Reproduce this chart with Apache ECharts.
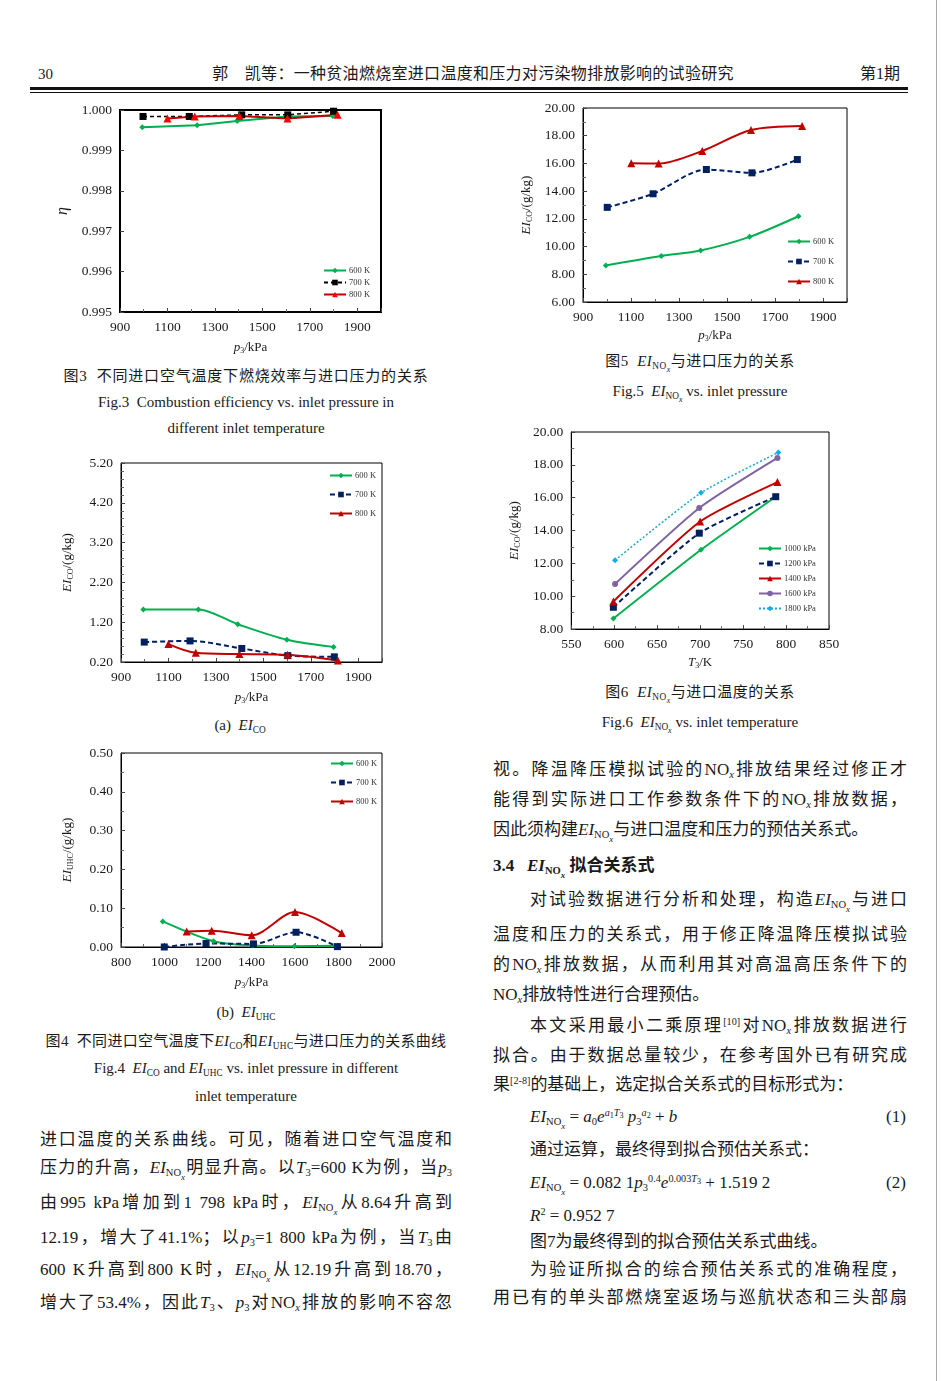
<!DOCTYPE html>
<html><head><meta charset="utf-8">
<script src="https://cdn.jsdelivr.net/npm/echarts@6/dist/echarts.min.js"></script>
<style>
html,body{margin:0;padding:0;background:#fff;}
body{width:941px;height:1381px;position:relative;overflow:hidden;font-family:"Liberation Serif","Noto Sans CJK SC",serif;color:#1a1a1a;}
.t{position:absolute;white-space:nowrap;line-height:22px;height:22px;}
.c{text-align:center;}
.ln{position:absolute;height:22px;line-height:22px;font-size:17px;text-align:justify;text-align-last:justify;overflow:visible;}
.nl{text-align-last:auto;}
sub{font-size:0.62em;vertical-align:-0.32em;line-height:0;}
sub sub{font-size:0.85em;vertical-align:-0.4em;}
sup{font-size:0.6em;vertical-align:0.55em;line-height:0;}
sup sub{font-size:0.8em;vertical-align:-0.2em;}
.chart{position:absolute;}
.rule{position:absolute;left:30px;width:878px;background:#111;}
</style>
</head><body>
<div id="c1" class="chart" style="left:40px;top:95px;width:360px;height:265px"></div>
<div id="c2" class="chart" style="left:500px;top:95px;width:380px;height:255px"></div>
<div id="c3" class="chart" style="left:40px;top:450px;width:360px;height:260px"></div>
<div id="c4" class="chart" style="left:40px;top:740px;width:360px;height:255px"></div>
<div id="c5" class="chart" style="left:500px;top:420px;width:380px;height:255px"></div>

<!-- header -->
<div class="t" style="left:38px;top:63px;font-size:15px">30</div>
<div class="t c" style="left:200px;width:546px;top:63px;font-size:16px;letter-spacing:0.3px">郭　凯等：一种贫油燃烧室进口温度和压力对污染物排放影响的试验研究</div>
<div class="t" style="left:860px;top:63px;font-size:16px">第1期</div>
<div class="rule" style="top:87px;height:3px"></div>
<div class="rule" style="top:92px;height:1px"></div>
<div style="position:absolute;left:936px;top:0;width:1px;height:1381px;background:#aaa"></div>

<!-- fig3 captions -->
<div class="t c" style="left:30px;width:432px;top:365px;font-size:15px;letter-spacing:0.8px">图3&nbsp; 不同进口空气温度下燃烧效率与进口压力的关系</div>
<div class="t c" style="left:30px;width:432px;top:391px;font-size:15px">Fig.3&nbsp; Combustion efficiency vs. inlet pressure in</div>
<div class="t c" style="left:30px;width:432px;top:417px;font-size:15px">different inlet temperature</div>

<!-- fig4 captions -->
<div class="t c" style="left:30px;width:420px;top:714px;font-size:15px">(a)&nbsp; <i>EI</i><sub>CO</sub></div>
<div class="t c" style="left:30px;width:432px;top:1001px;font-size:15px">(b)&nbsp; <i>EI</i><sub>UHC</sub></div>
<div class="t c" style="left:30px;width:432px;top:1030px;font-size:15px;letter-spacing:0.3px">图4&nbsp; 不同进口空气温度下<i>EI</i><sub>CO</sub>和<i>EI</i><sub>UHC</sub>与进口压力的关系曲线</div>
<div class="t c" style="left:30px;width:432px;top:1057px;font-size:15px">Fig.4&nbsp; <i>EI</i><sub>CO</sub> and <i>EI</i><sub>UHC</sub> vs. inlet pressure in different</div>
<div class="t c" style="left:30px;width:432px;top:1085px;font-size:15px">inlet temperature</div>

<!-- fig5 / fig6 captions -->
<div class="t c" style="left:500px;width:400px;top:350px;font-size:15px;letter-spacing:0.5px">图5&nbsp; <i>EI</i><sub>NO<sub><i>x</i></sub></sub>与进口压力的关系</div>
<div class="t c" style="left:500px;width:400px;top:380px;font-size:15px">Fig.5&nbsp; <i>EI</i><sub>NO<sub><i>x</i></sub></sub> vs. inlet pressure</div>
<div class="t c" style="left:500px;width:400px;top:681px;font-size:15px;letter-spacing:0.5px">图6&nbsp; <i>EI</i><sub>NO<sub><i>x</i></sub></sub>与进口温度的关系</div>
<div class="t c" style="left:500px;width:400px;top:711px;font-size:15px">Fig.6&nbsp; <i>EI</i><sub>NO<sub><i>x</i></sub></sub> vs. inlet temperature</div>

<!-- left body text -->
<div class="ln" style="left:40px;width:412px;top:1129px">进口温度的关系曲线。可见，随着进口空气温度和</div>
<div class="ln" style="left:40px;width:412px;top:1157px">压力的升高，<i>EI</i><sub>NO<sub><i>x</i></sub></sub>明显升高。以<i>T</i><sub>3</sub>=600 K为例，当<i>p</i><sub>3</sub></div>
<div class="ln" style="left:40px;width:412px;top:1192px">由995 kPa增加到1 798 kPa时，<i>EI</i><sub>NO<sub><i>x</i></sub></sub>从8.64升高到</div>
<div class="ln" style="left:40px;width:412px;top:1227px">12.19，增大了41.1%；以<i>p</i><sub>3</sub>=1 800 kPa为例，当<i>T</i><sub>3</sub>由</div>
<div class="ln" style="left:40px;width:412px;top:1259px">600 K升高到800 K时，<i>EI</i><sub>NO<sub><i>x</i></sub></sub>从12.19升高到18.70，</div>
<div class="ln" style="left:40px;width:412px;top:1292px">增大了53.4%，因此<i>T</i><sub>3</sub>、<i>p</i><sub>3</sub>对NO<sub><i>x</i></sub>排放的影响不容忽</div>

<!-- right body text -->
<div class="ln" style="left:493px;width:414px;top:759px">视。降温降压模拟试验的NO<sub><i>x</i></sub>排放结果经过修正才</div>
<div class="ln" style="left:493px;width:414px;top:789px">能得到实际进口工作参数条件下的NO<sub><i>x</i></sub>排放数据，</div>
<div class="ln nl" style="left:493px;width:414px;top:819px">因此须构建<i>EI</i><sub>NO<sub><i>x</i></sub></sub>与进口温度和压力的预估关系式。</div>
<div class="ln nl" style="left:493px;width:414px;top:855px;font-weight:bold">3.4&nbsp;&nbsp; <i>EI</i><sub>NO<sub><i>x</i></sub></sub> 拟合关系式</div>
<div class="ln" style="left:530px;width:377px;top:889px">对试验数据进行分析和处理，构造<i>EI</i><sub>NO<sub><i>x</i></sub></sub>与进口</div>
<div class="ln" style="left:493px;width:414px;top:924px">温度和压力的关系式，用于修正降温降压模拟试验</div>
<div class="ln" style="left:493px;width:414px;top:954px">的NO<sub><i>x</i></sub>排放数据，从而利用其对高温高压条件下的</div>
<div class="ln nl" style="left:493px;width:414px;top:984px">NO<sub><i>x</i></sub>排放特性进行合理预估。</div>
<div class="ln" style="left:530px;width:377px;top:1015px">本文采用最小二乘原理<sup>[10]</sup>对NO<sub><i>x</i></sub>排放数据进行</div>
<div class="ln" style="left:493px;width:414px;top:1045px">拟合。由于数据总量较少，在参考国外已有研究成</div>
<div class="ln nl" style="left:493px;width:414px;top:1074px">果<sup>[2-8]</sup>的基础上，选定拟合关系式的目标形式为：</div>
<div class="ln nl" style="left:530px;width:300px;top:1106px"><i>EI</i><sub>NO<sub><i>x</i></sub></sub> = <i>a</i><sub>0</sub><i>e</i><sup><i>a</i><sub>1</sub><i>T</i><sub>3</sub></sup>&nbsp;<i>p</i><sub>3</sub><sup><i>a</i><sub>2</sub></sup> + <i>b</i></div>
<div class="t" style="left:886px;top:1106px;font-size:17px">(1)</div>
<div class="ln nl" style="left:530px;width:377px;top:1139px">通过运算，最终得到拟合预估关系式：</div>
<div class="ln nl" style="left:530px;width:340px;top:1172px"><i>EI</i><sub>NO<sub><i>x</i></sub></sub> = 0.082 1<i>p</i><sub>3</sub><sup>0.4</sup><i>e</i><sup>0.003<i>T</i><sub>3</sub></sup> + 1.519 2</div>
<div class="t" style="left:886px;top:1172px;font-size:17px">(2)</div>
<div class="ln nl" style="left:530px;width:300px;top:1205px"><i>R</i><sup>2</sup> = 0.952 7</div>
<div class="ln nl" style="left:530px;width:377px;top:1231px">图7为最终得到的拟合预估关系式曲线。</div>
<div class="ln" style="left:530px;width:377px;top:1259px">为验证所拟合的综合预估关系式的准确程度，</div>
<div class="ln" style="left:493px;width:414px;top:1287px">用已有的单头部燃烧室返场与巡航状态和三头部扇</div>

<script>
// ---------- data ----------
// Fig.3 combustion efficiency vs inlet pressure
const fig3P600 = [994, 1225, 1394, 1603, 1797];
const fig3Eta600 = [0.99957, 0.99962, 0.99973, 0.99984, 0.99985];
const fig3P700 = [997, 1192, 1413, 1607, 1800];
const fig3Eta700 = [0.99984, 0.99984, 0.99988, 0.99988, 0.99997];
const fig3P800 = [1100, 1215, 1403, 1606, 1817];
const fig3Eta800 = [0.99979, 0.99984, 0.99985, 0.99979, 0.99988];
// Fig.4a EI_CO vs inlet pressure
const fig4aP600 = [994, 1226, 1392, 1599, 1796];
const fig4aCO600 = [1.52, 1.52, 1.15, 0.76, 0.58];
const fig4aP700 = [998, 1191, 1409, 1603, 1799];
const fig4aCO700 = [0.70, 0.73, 0.54, 0.36, 0.33];
const fig4aP800 = [1100, 1215, 1399, 1602, 1814];
const fig4aCO800 = [0.65, 0.43, 0.40, 0.38, 0.24];
// Fig.4b EI_UHC vs inlet pressure
const fig4bP600 = [992, 1225, 1406, 1598, 1797];
const fig4bUHC600 = [0.066, 0.015, 0.004, 0.002, 0.003];
const fig4bP700 = [999, 1191, 1409, 1605, 1795];
const fig4bUHC700 = [0.000, 0.009, 0.008, 0.038, 0.001];
const fig4bP800 = [1102, 1217, 1401, 1600, 1815];
const fig4bUHC800 = [0.040, 0.042, 0.030, 0.090, 0.036];
// Fig.5 EI_NOx vs inlet pressure
const fig5P600 = [995, 1226, 1390, 1594, 1798];
const fig5NOx600 = [8.64, 9.32, 9.72, 10.70, 12.19];
const fig5P700 = [1001, 1192, 1414, 1604, 1793];
const fig5NOx700 = [12.83, 13.81, 15.56, 15.32, 16.28];
const fig5P800 = [1101, 1215, 1397, 1600, 1813];
const fig5NOx800 = [16.01, 15.99, 16.90, 18.41, 18.70];
// Fig.6 EI_NOx vs inlet temperature
const fig6T1000 = [599, 701, 788];
const fig6NOx1000 = [8.64, 12.83, 16.06];
const fig6T1200 = [599, 699, 788];
const fig6NOx1200 = [9.33, 13.84, 16.06];
const fig6T1400 = [599, 700, 790];
const fig6NOx1400 = [9.68, 14.55, 16.95];
const fig6T1600 = [601, 699, 790];
const fig6NOx1600 = [10.75, 15.37, 18.42];
const fig6T1800 = [601, 701, 791];
const fig6NOx1800 = [12.19, 16.30, 18.75];
const tempLegend = ['600 K', '700 K', '800 K'];
const pressLegend = ['1000 kPa', '1200 kPa', '1400 kPa', '1600 kPa', '1800 kPa'];

// ---------- helpers ----------
const FONT = '"Liberation Serif", "Times New Roman", serif';
const INK = '#1a1a1a';
const RICH = {
  i: {fontFamily: FONT, fontStyle: 'italic', fontSize: 13, color: INK},
  n: {fontFamily: FONT, fontSize: 13, color: INK},
  s: {fontFamily: FONT, fontSize: 8, color: INK, padding: [7, 0, 0, 0]},
  eta: {fontFamily: FONT, fontStyle: 'italic', fontSize: 16, color: INK}
};
function pts(xs, ys) { return xs.map((x, i) => [x, ys[i]]); }
function line(name, xs, ys, o) {
  return {
    name, type: 'line', data: pts(xs, ys), smooth: o.smooth || false,
    symbol: o.symbol, symbolSize: o.size || 6, showSymbol: true,
    lineStyle: {color: o.color, width: o.width || 2, type: o.dash || 'solid'},
    itemStyle: {color: o.mcolor || o.color}, z: o.z || 2
  };
}
function valueAxis(min, max, interval, dec, o) {
  o = o || {};
  return {
    type: 'value', min, max, interval,
    name: o.name, nameGap: o.nameGap,
    nameLocation: 'middle', nameTextStyle: {rich: RICH},
    axisLine: {show: true, lineStyle: {color: '#000', width: o.lw || 1}},
    axisTick: {show: true, inside: true, length: 4, lineStyle: {color: '#444'}},
    minorTick: {show: o.minor !== 0, splitNumber: o.minor || 2, length: 3, lineStyle: {color: '#666'}},
    splitLine: {show: false}, minorSplitLine: {show: false},
    axisLabel: {fontFamily: FONT, fontSize: 13.5, color: INK, margin: 8,
      showMaxLabel: o.hideMax ? false : null,
      formatter: v => dec == null ? String(Math.round(v)) : v.toFixed(dec)}
  };
}
function legend(data, left, top, gap) {
  return {orient: 'vertical', left, top, data, itemWidth: 22, itemHeight: 7, itemGap: gap,
    padding: 0, selectedMode: false,
    textStyle: {fontFamily: FONT, fontSize: 8.5, color: '#333', padding: [0, 0, 0, -2]}};
}
function make(id, grid, xAxis, yAxis, leg, series, bw) {
  const ch = echarts.init(document.getElementById(id));
  ch.setOption({
    animation: false,
    grid: {left: grid[0], top: grid[1], width: grid[2], height: grid[3], show: true,
      borderColor: '#000', borderWidth: bw || 1},
    xAxis, yAxis, legend: leg, series
  });
}

const G = '#00B050', NAVY = '#002060', DRED = '#C00000', RED = '#FF0000';

// Fig.3
make('c1', [80, 15, 261, 202],
  valueAxis(900, 2000, 200, null, {name: '{i|p}{s|3}{n|/kPa}', nameGap: 28, hideMax: true, lw: 2}),
  valueAxis(0.995, 1.000, 0.001, 3, {name: '{eta|η}', nameGap: 46, lw: 2, minor: 0}),
  legend(tempLegend, 283, 171, 3),
  [line('600 K', fig3P600, fig3Eta600, {color: G, symbol: 'diamond', size: 6}),
   line('700 K', fig3P700, fig3Eta700, {color: '#000', symbol: 'rect', size: 7, dash: [4, 3], width: 1.5}),
   line('800 K', fig3P800, fig3Eta800, {color: DRED, mcolor: RED, symbol: 'triangle', size: 8})], 2);

// Fig.5
make('c2', [83, 13, 264, 194],
  valueAxis(900, 2000, 200, null, {name: '{i|p}{s|3}{n|/kPa}', nameGap: 24, hideMax: true}),
  valueAxis(6, 20, 2, 2, {name: '{i|EI}{s|CO}{n|/(g/kg)}', nameGap: 48}),
  legend(tempLegend, 287, 142, 11),
  [line('600 K', fig5P600, fig5NOx600, {color: G, symbol: 'diamond', size: 6, smooth: 0.3}),
   line('700 K', fig5P700, fig5NOx700, {color: NAVY, symbol: 'rect', size: 7, dash: [5, 3], smooth: 0.3}),
   line('800 K', fig5P800, fig5NOx800, {color: DRED, symbol: 'triangle', size: 8, smooth: 0.3})]);

// Fig.4a
make('c3', [81, 13, 261, 200],
  valueAxis(900, 2000, 200, null, {name: '{i|p}{s|3}{n|/kPa}', nameGap: 28, hideMax: true}),
  valueAxis(0.2, 5.2, 1, 2, {name: '{i|EI}{s|CO}{n|/(g/kg)}', nameGap: 46, minor: 5}),
  legend(tempLegend, 289, 21, 10),
  [line('600 K', fig4aP600, fig4aCO600, {color: G, symbol: 'diamond', size: 6, smooth: 0.3}),
   line('700 K', fig4aP700, fig4aCO700, {color: NAVY, symbol: 'rect', size: 7, dash: [5, 3], smooth: 0.3}),
   line('800 K', fig4aP800, fig4aCO800, {color: DRED, symbol: 'triangle', size: 8, smooth: 0.3})]);

// Fig.4b
make('c4', [81, 13, 261, 196],
  valueAxis(800, 2000, 200, null, {name: '{i|p}{s|3}{n|/kPa}', nameGap: 28}),
  valueAxis(0, 0.5, 0.1, 2, {name: '{i|EI}{s|UHC}{n|/(g/kg)}', nameGap: 46}),
  legend(tempLegend, 290, 19, 10),
  [line('600 K', fig4bP600, fig4bUHC600, {color: G, symbol: 'diamond', size: 6, smooth: 0.3}),
   line('700 K', fig4bP700, fig4bUHC700, {color: NAVY, symbol: 'rect', size: 7, dash: [5, 3], smooth: 0.3}),
   line('800 K', fig4bP800, fig4bUHC800, {color: DRED, symbol: 'triangle', size: 8, smooth: 0.3})]);

// Fig.6
make('c5', [65, 12, 264, 202],
  valueAxis(550, 850, 50, null, {name: '{i|T}{s|3}{n|/K}', nameGap: 24}),
  valueAxis(8, 20, 2, 2, {name: '{i|EI}{s|CO}{n|/(g/kg)}', nameGap: 48}),
  legend(pressLegend, 258, 124, 6),
  [line('1000 kPa', fig6T1000, fig6NOx1000, {color: G, symbol: 'diamond', size: 6, smooth: 0.2}),
   line('1200 kPa', fig6T1200, fig6NOx1200, {color: NAVY, symbol: 'rect', size: 7, dash: [5, 3], smooth: 0.2}),
   line('1400 kPa', fig6T1400, fig6NOx1400, {color: DRED, symbol: 'triangle', size: 8, smooth: 0.2}),
   line('1600 kPa', fig6T1600, fig6NOx1600, {color: '#8064A2', symbol: 'circle', size: 6, smooth: 0.2}),
   line('1800 kPa', fig6T1800, fig6NOx1800, {color: '#1FA6C9', mcolor: '#00B0F0', symbol: 'diamond', size: 6, dash: [2, 2], width: 1.5, smooth: 0.2})]);
</script>
</body></html>
